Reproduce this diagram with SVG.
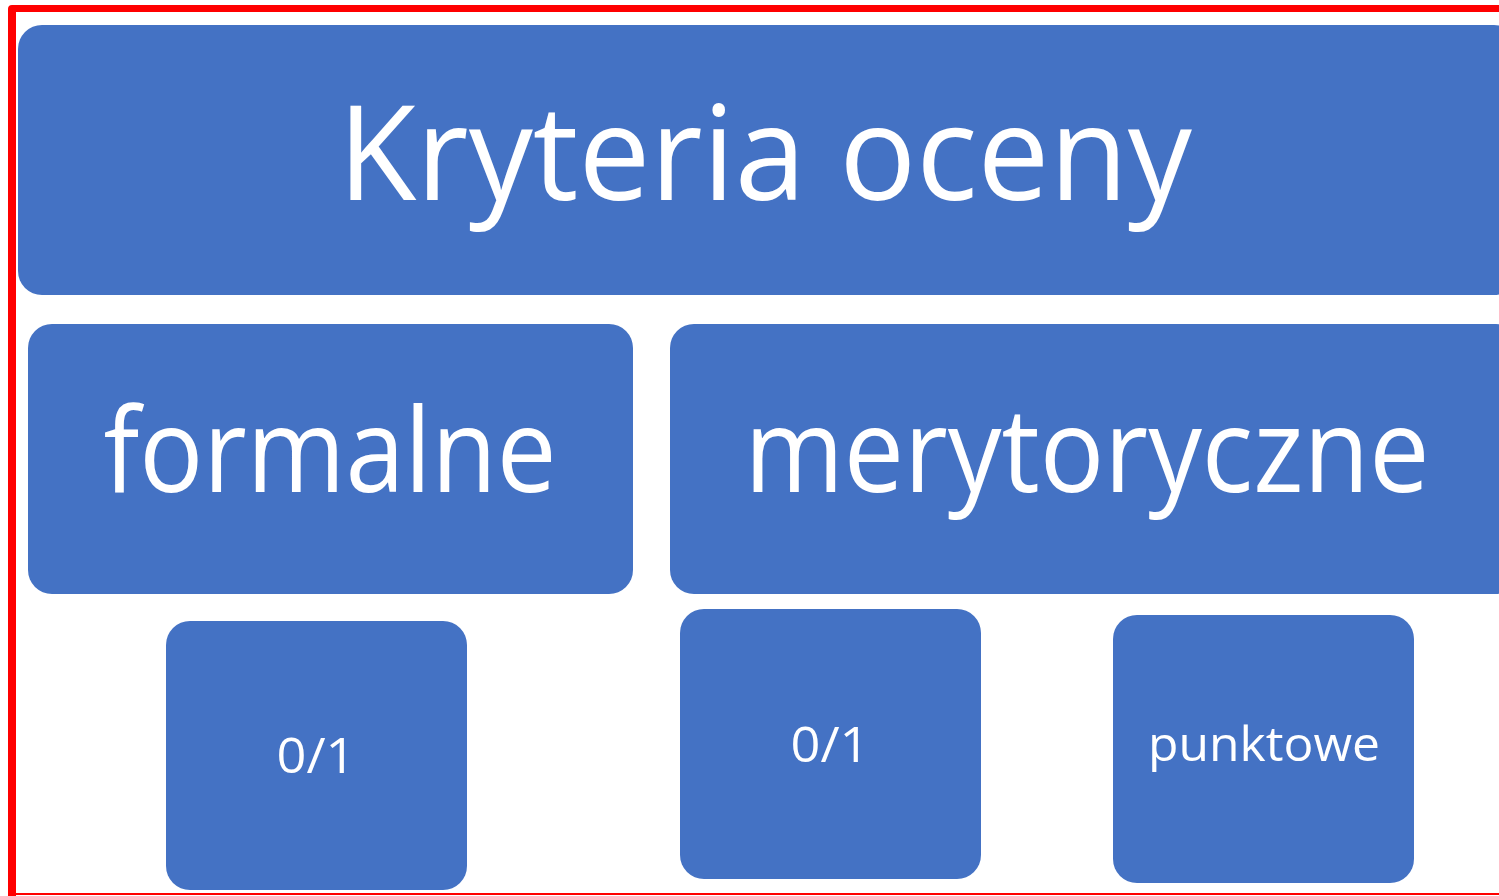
<svg xmlns="http://www.w3.org/2000/svg" width="1499" height="896" viewBox="0 0 1499 896">
<style>
.box{fill:#4472C4}
.t{fill:#ffffff;font-family:"Open Sans","Noto Sans",sans-serif;text-anchor:middle}
</style>
<rect width="1499" height="896" fill="#ffffff"/>
<g id="frame" fill="#FF0000">
<path d="M8,896 L8,9 Q8,5 12,5 L1499,5 L1499,12 L16,12 L16,896 Z"/>
<rect x="16" y="893" width="1483" height="2"/>
</g>
<g id="connectors"></g>
<g id="node-kryteria">
<rect class="box" x="18" y="25" width="1500" height="270" rx="24"/>
<text class="t" x="765" y="200" font-size="132" textLength="854" lengthAdjust="spacingAndGlyphs">Kryteria oceny</text>
</g>
<g id="node-formalne">
<rect class="box" x="28" y="324" width="605" height="270" rx="24"/>
<text class="t" x="330" y="492" font-size="118" textLength="453" lengthAdjust="spacingAndGlyphs">formalne</text>
</g>
<g id="node-merytoryczne">
<rect class="box" x="670" y="324" width="850" height="270" rx="24"/>
<text class="t" x="1087" y="492" font-size="118" textLength="685" lengthAdjust="spacingAndGlyphs">merytoryczne</text>
</g>
<g id="node-formalne-01">
<rect class="box" x="166" y="621" width="301" height="269" rx="24"/>
<text class="t" x="316" y="773" font-size="50" textLength="79" lengthAdjust="spacingAndGlyphs">0/1</text>
</g>
<g id="node-merytoryczne-01">
<rect class="box" x="680" y="609" width="301" height="270" rx="24"/>
<text class="t" x="830" y="762" font-size="50" textLength="79" lengthAdjust="spacingAndGlyphs">0/1</text>
</g>
<g id="node-punktowe">
<rect class="box" x="1113" y="615" width="301" height="268" rx="24"/>
<text class="t" x="1264" y="761" font-size="47" textLength="232" lengthAdjust="spacingAndGlyphs">punktowe</text>
</g>
</svg>
